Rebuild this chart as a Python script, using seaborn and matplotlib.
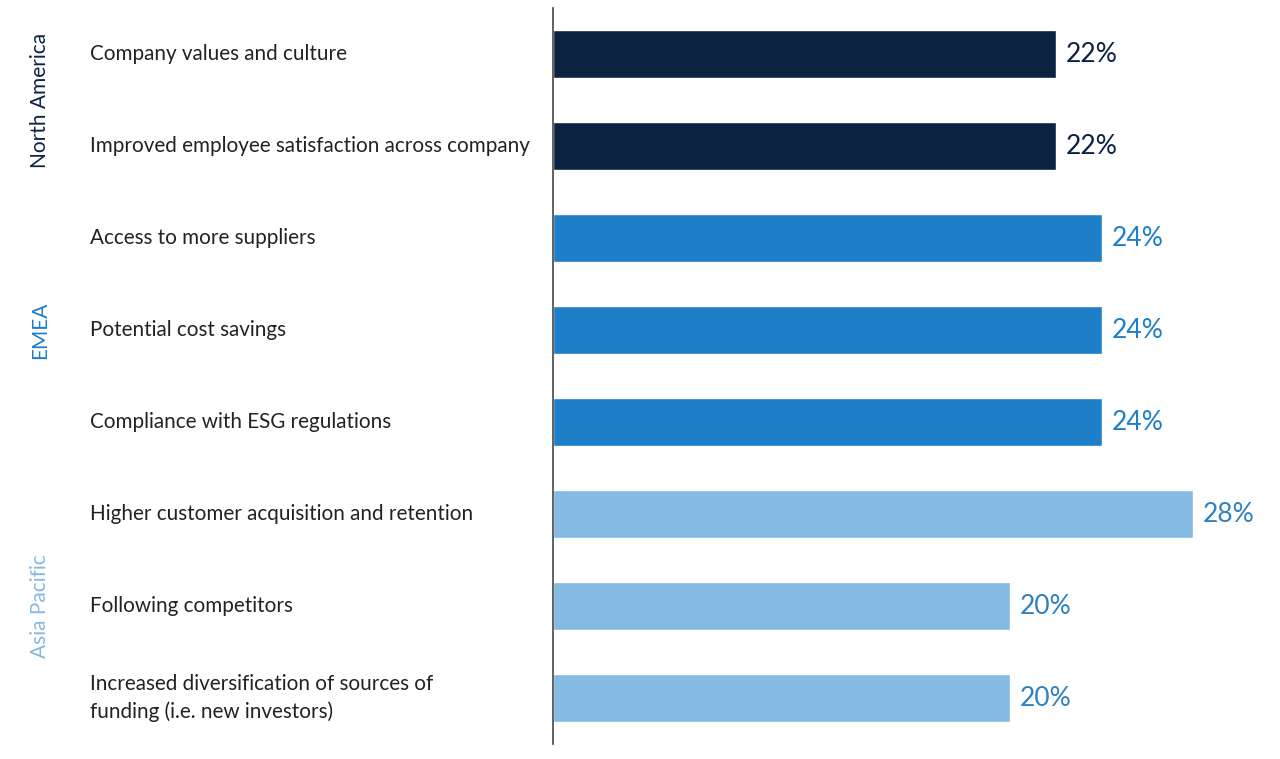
import matplotlib
matplotlib.use("Agg")
import matplotlib.pyplot as plt
import matplotlib.transforms as mtransforms
import pandas as pd
import seaborn as sns

categories = [
    "Company values and culture",
    "Improved employee satisfaction across company",
    "Access to more suppliers",
    "Potential cost savings",
    "Compliance with ESG regulations",
    "Higher customer acquisition and retention",
    "Following competitors",
    "Increased diversification of sources of\nfunding (i.e. new investors)",
]
values = [22, 22, 24, 24, 24, 28, 20, 20]
regions = ["North America"] * 2 + ["EMEA"] * 3 + ["Asia Pacific"] * 3

region_names = ["North America", "EMEA", "Asia Pacific"]
bar_colors = {"North America": "#0b2240", "EMEA": "#1f7ec8", "Asia Pacific": "#85bae2"}
text_colors = {"North America": "#0b2240", "EMEA": "#1f7ec8", "Asia Pacific": "#2f80c2"}
region_label_colors = {"North America": "#0b2240", "EMEA": "#1f7ec8", "Asia Pacific": "#85bae2"}

df = pd.DataFrame({"category": categories, "value": values, "region": regions})

sns.set_style("white")
plt.rcParams["font.family"] = ["Lato", "DejaVu Sans"]

fig = plt.figure(figsize=(12.8, 7.59), dpi=100)
ax = fig.add_axes([553 / 1280, 1 - 744 / 759, 1 - 553 / 1280, 736 / 759])

sns.barplot(
    data=df,
    x="value",
    y="category",
    hue="region",
    hue_order=region_names,
    palette=bar_colors,
    saturation=1,
    dodge=False,
    width=0.53,
    orient="h",
    legend=False,
    ax=ax,
)

for container, name in zip(ax.containers, region_names):
    ax.bar_label(
        container,
        labels=[f"{v:.0f}%" for v in container.datavalues],
        padding=7,
        fontsize=19,
        color=text_colors[name],
    )

ax.set_xlim(0, 28 * 727 / 640)
ax.set_ylim(len(categories) - 0.5, -0.5)
ax.set_xticks([])
ax.set_yticks([])
ax.set_xlabel("")
ax.set_ylabel("")
for side in ["top", "right", "bottom"]:
    ax.spines[side].set_visible(False)
ax.spines["left"].set_color("#555555")
ax.spines["left"].set_linewidth(1.3)

trans = mtransforms.blended_transform_factory(fig.transFigure, ax.transData)
for i, cat in enumerate(categories):
    ax.text(90 / 1280, i, cat, transform=trans, ha="left", va="center",
            fontsize=14.9, color="#222222", linespacing=1.5)

for name in region_names:
    idx = [i for i, r in enumerate(regions) if r == name]
    center = (idx[0] + idx[-1]) / 2
    ax.text(40 / 1280, center, name, transform=trans, rotation=90,
            ha="center", va="center", fontsize=15,
            color=region_label_colors[name])

fig.savefig("out.png", dpi=100)
